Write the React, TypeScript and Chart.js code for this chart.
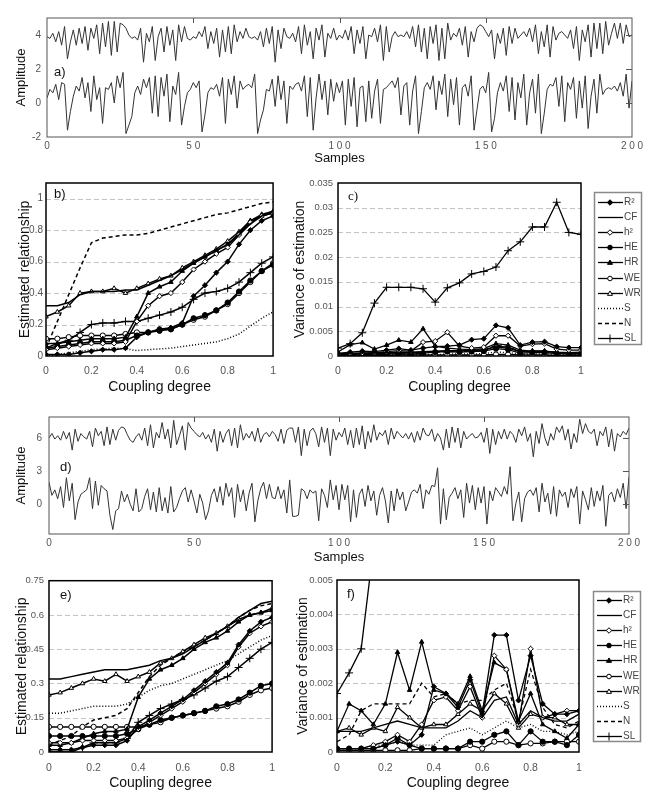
import React, { useEffect, useRef } from 'react';
import { Chart, registerables } from 'chart.js';

Chart.register(...registerables);

const FONT = "'Liberation Sans', Arial, Helvetica, sans-serif";
const TICK_FONT = "'Liberation Sans', Arial, sans-serif";

// ---------- signals (panel a) ----------
const sigAUpper = [
  3.9, 3.8, 4.1, 3.6, 4.2, 3.4, 4.5, 2.6, 3.6, 4.3, 3.4, 4.4, 3.5, 4.5, 3.1, 4.4, 3.8, 4.6, 2.9, 4.7,
  3.3, 4.8, 2.8, 4.8, 3.0, 4.7, 4.6, 4.4, 4.0, 3.8, 3.9, 3.7, 4.4, 2.4, 4.1, 3.6, 4.5, 2.5, 3.9, 4.4,
  3.0, 4.5, 3.4, 4.3, 2.5, 4.6, 3.6, 4.5, 3.8, 3.7, 3.9, 3.8, 4.2, 3.9, 4.5, 3.2, 4.2, 3.5, 4.4, 2.7,
  4.3, 3.0, 4.5, 2.9, 4.6, 3.6, 4.2, 3.8, 4.4, 3.9, 3.8, 3.9, 3.7, 4.2, 3.3, 4.4, 3.5, 4.5, 2.4, 4.3,
  3.2, 4.4, 3.9, 3.8, 4.1, 3.6, 4.5, 2.9, 4.6, 3.4, 4.2, 2.6, 4.4, 3.7, 4.6, 2.7, 4.1, 3.8, 4.4, 3.7,
  4.0, 3.8, 4.3, 3.7, 4.5, 2.9, 4.3, 3.5, 4.5, 2.6, 4.0, 3.9, 4.4, 3.6, 4.6, 2.5, 4.5, 3.0, 3.9, 4.2,
  3.9, 4.0, 3.9, 4.2, 3.8, 4.5, 3.3, 4.6, 3.0, 4.4, 2.6, 4.5, 3.5, 4.6, 2.5, 4.4, 2.6, 4.7, 3.7, 4.1,
  3.9, 4.4, 3.4, 4.5, 2.7, 4.2, 3.6, 4.4, 4.6, 4.5, 4.2, 3.9, 4.3, 2.6, 4.1, 3.5, 4.4, 2.8, 4.5, 3.5,
  4.4, 3.8, 4.0, 4.2, 3.9, 4.4, 3.6, 4.6, 2.9, 4.2, 3.3, 4.6, 2.7, 4.5, 3.7, 4.1, 4.2, 4.0, 3.8, 4.3,
  3.2, 4.5, 2.5, 4.3, 3.6, 4.6, 2.7, 4.7, 3.2, 4.7, 2.9, 4.8, 3.4, 4.1, 4.7, 3.8, 4.7, 3.5, 4.6, 3.9,
  4.0,
];
const sigALower = [
  0.3, 0.8, 0.6, 1.1, 0.2, 1.2, 1.1, -1.6, -0.5, 0.4, 1.0, 0.7, 1.5, 0.3, 1.2, -0.5, 1.6, 0.2, 0.9, -1.2,
  0.9, 0.8, 1.2, 0.0, 1.6, 0.9, 1.8, -1.8, -1.3, -0.8, 0.6, 1.0, 0.5, 1.4, 0.9, 1.5, -0.6, 1.6, -0.8, 1.5,
  0.4, 1.7, -1.1, 1.0, 0.5, 1.8, -1.3, -0.2, 0.6, 0.8, 1.2, 0.9, 1.3, -1.7, -0.7, 0.6, 0.9, 0.8, 1.1, 0.4,
  1.5, -1.2, 1.4, 0.5, 1.6, -0.3, 1.3, 0.8, 1.0, 1.1, 0.9, 1.7, -1.8, -1.0, -0.4, 0.8, 0.7, 1.4, -0.2, 1.6,
  0.2, 1.3, -1.2, 1.0, 0.8, 1.1, 1.2, 0.7, 1.6, -0.8, 1.5, -1.6, 0.3, 1.7, 0.2, 1.3, -0.7, 1.4, 0.1, 1.2,
  0.6, 1.3, -1.3, 1.4, -0.2, 1.5, -1.4, 0.9, 1.0, -1.1, 1.3, -0.9, 0.7, 1.4, -1.2, 0.8, 0.9, 1.1, 1.3, 0.9,
  1.5, -0.7, 1.0, 1.2, -1.3, 0.7, 1.6, -1.8, -0.5, 0.9, 1.2, 0.8, 1.6, -0.4, 1.3, 0.5, 1.7, -0.8, 1.4, -0.1,
  1.5, -1.3, 0.9, 1.1, 0.4, 1.6, -1.6, -0.4, 0.8, 1.0, 0.6, 1.8, -1.7, -0.9, 0.6, 1.2, 0.7, 1.6, -0.5, 1.5,
  -1.0, 1.2, 0.3, 1.7, -1.3, 0.6, 1.4, -0.6, 1.7, -1.8, -0.6, 0.8, 1.1, 1.0, 1.5, -0.2, 1.6, -1.1, 1.2, 0.8,
  1.5, -0.9, 1.3, -0.3, 1.6, -1.5, 0.4, 1.4, -0.6, 1.7, 0.5, 0.8, 0.9, 0.8, 1.0, 0.7, 1.2, 0.4, 1.7, -0.3,
  1.3,
];

// ---------- signals (panel d) ----------
const sigDUpper = [
  6.0, 6.4, 5.9, 6.2, 5.8, 6.6, 5.9, 6.5, 4.9, 6.8, 5.7, 6.4, 6.1, 5.9, 6.6, 5.2, 6.9, 6.2, 6.6, 5.3,
  7.0, 5.4, 6.8, 5.8, 6.7, 7.0, 6.9, 6.3, 5.8, 5.6, 6.1, 6.4, 5.8, 6.9, 5.3, 7.2, 5.1, 6.5, 6.0, 7.4,
  5.9, 6.8, 5.1, 7.6, 5.4, 6.2, 7.1, 4.9, 7.4, 6.9, 6.6, 6.3, 6.1, 6.5, 5.9, 6.3, 5.6, 6.8, 4.8, 6.6,
  5.6, 6.4, 6.8, 5.3, 6.9, 5.1, 7.2, 5.8, 6.4, 6.0, 6.6, 5.7, 6.9, 5.6, 6.3, 6.5, 6.1, 6.6, 6.3, 5.7,
  6.8, 5.5, 6.7, 6.9, 6.9, 5.6, 7.0, 4.4, 6.8, 5.3, 6.6, 6.9, 6.4, 5.2, 7.0, 5.6, 6.9, 4.4, 6.8, 5.8,
  6.5, 6.1, 6.9, 5.4, 6.7, 5.1, 6.9, 5.4, 7.1, 5.0, 6.6, 5.6, 7.2, 5.8, 6.5, 6.2, 6.7, 5.4, 6.9, 5.9,
  6.6, 6.3, 6.0, 6.4, 5.9, 6.5, 5.6, 6.6, 5.8, 6.9, 6.3, 6.2, 6.8, 5.7, 6.4, 6.0, 4.9, 6.8, 5.1, 7.0,
  5.6, 6.9, 5.1, 6.6, 5.9, 6.2, 6.4, 6.0, 6.1, 6.5, 5.6, 6.9, 4.6, 6.8, 5.4, 6.6, 5.9, 6.8, 5.9, 6.6,
  6.3, 5.6, 6.8, 6.2, 7.0, 5.7, 6.4, 4.3, 6.6, 5.5, 7.3, 6.0, 5.3, 6.4, 5.8, 7.0, 6.5, 7.1, 5.8, 6.8,
  5.0, 6.4, 5.6, 7.7, 6.4, 7.3, 6.6, 6.4, 6.8, 5.3, 6.6, 6.2, 7.0, 5.2, 6.8, 4.8, 6.4, 6.1, 6.6, 6.3,
  6.9,
];
const sigDLower = [
  2.0, 0.8, 1.3, 0.5, 1.6, -0.3, 2.4, 0.3, 1.9, -1.4, 0.2, 0.9, 1.1, 1.3, 2.4, -0.4, 2.1, -0.1, 1.7, 1.4,
  1.2, -1.0, -2.3, -0.6, -0.4, 1.2, 0.2, 0.9, 0.0, -0.6, 1.4, -0.7, -0.4, 0.7, 1.4, -0.5, 1.1, -0.7, 1.5, -0.6,
  0.6, -0.8, 1.6, -0.7, -0.3, 0.5, 1.2, 1.5, 0.2, 1.3, 0.3, -0.8, 0.9, 0.1, -1.4, -0.6, 0.8, 1.4, 0.2, 1.6,
  -0.1, 1.9, 0.7, 1.5, -1.2, 1.8, 0.2, 1.3, -0.6, 1.0, 1.9, -1.6, 0.3, 1.4, 2.0, 0.5, 1.8, 0.6, 0.5, 1.6,
  0.5, 1.3, -0.8, 2.2, -1.1, -1.1, -1.0, 1.4, 1.2, 0.5, 1.3, 1.0, 1.2, -1.5, 1.4, 0.8, -0.3, 2.2, 0.4, 1.7,
  -0.5, 1.8, 0.4, 1.7, -1.6, 1.3, -1.2, 0.9, 1.4, -0.2, 1.7, 0.3, 1.2, -1.0, 0.8, 1.5, 0.3, -1.7, 1.2, -0.6,
  1.4, 0.4, 1.1, -0.6, 0.2, 1.1, 1.3, 1.0, 1.8, -0.4, 1.3, 0.9, 1.7, 1.6, 3.3, -1.8, 1.4, -1.4, 0.6, 1.0,
  1.5, 0.5, 1.3, -1.2, 1.9, 0.1, 1.7, -0.5, 1.5, 0.1, 1.6, -1.8, 1.2, 0.3, 1.5, 1.1, 0.7, 1.6, 0.9, 3.4,
  -1.5, 0.1, 1.1, -1.6, 0.5, 1.1, 1.3, 0.8, 1.5, -0.7, 1.9, 0.2, 1.0, -0.9, 1.6, -1.1, 1.3, 0.7, 1.1, -0.3,
  1.4, 0.6, 1.6, -1.8, 1.2, 0.4, -0.5, 1.5, -0.2, 1.2, 0.3, 1.7, -2.0, 0.8, 1.1, 0.2, 1.4, 0.6, 1.9, -0.4,
  2.5,
];

// ---------- coupling degree ----------
const couplingDegree = [0, 0.05, 0.1, 0.15, 0.2, 0.25, 0.3, 0.35, 0.4, 0.45, 0.5, 0.55, 0.6, 0.65, 0.7, 0.75, 0.8, 0.85, 0.9, 0.95, 1];
const methods = ['R²', 'CF', 'h²', 'HE', 'HR', 'WE', 'WR', 'S', 'N', 'SL'];

// panel b: estimated relationship
const bR2 = [0.01, 0.01, 0.01, 0.02, 0.03, 0.04, 0.04, 0.05, 0.12, 0.15, 0.17, 0.18, 0.21, 0.38, 0.45, 0.53, 0.60, 0.71, 0.80, 0.86, 0.89];
const bCF = [0.32, 0.32, 0.34, 0.39, 0.41, 0.41, 0.41, 0.42, 0.42, 0.45, 0.48, 0.51, 0.55, 0.59, 0.63, 0.67, 0.71, 0.77, 0.84, 0.89, 0.92];
const bH2 = [0.04, 0.05, 0.06, 0.07, 0.08, 0.08, 0.08, 0.09, 0.22, 0.32, 0.38, 0.40, 0.47, 0.55, 0.60, 0.65, 0.69, 0.77, 0.85, 0.89, 0.91];
const bHE = [0.05, 0.06, 0.07, 0.08, 0.09, 0.09, 0.09, 0.10, 0.13, 0.15, 0.16, 0.17, 0.20, 0.24, 0.26, 0.29, 0.34, 0.41, 0.48, 0.54, 0.58];
const bHR = [0.08, 0.08, 0.09, 0.10, 0.11, 0.11, 0.11, 0.12, 0.25, 0.40, 0.44, 0.47, 0.54, 0.59, 0.63, 0.67, 0.71, 0.78, 0.86, 0.90, 0.92];
const bWE = [0.11, 0.11, 0.12, 0.13, 0.13, 0.13, 0.13, 0.14, 0.15, 0.15, 0.17, 0.17, 0.20, 0.23, 0.25, 0.29, 0.33, 0.40, 0.47, 0.54, 0.59];
const bWR = [0.25, 0.28, 0.32, 0.40, 0.41, 0.41, 0.43, 0.40, 0.43, 0.46, 0.49, 0.51, 0.56, 0.60, 0.64, 0.68, 0.73, 0.79, 0.86, 0.89, 0.91];
const bS = [0.00, 0.01, 0.02, 0.03, 0.04, 0.045, 0.05, 0.045, 0.035, 0.04, 0.045, 0.05, 0.06, 0.07, 0.08, 0.09, 0.11, 0.14, 0.19, 0.24, 0.28];
const bN = [0.05, 0.22, 0.39, 0.56, 0.72, 0.75, 0.76, 0.77, 0.77, 0.78, 0.80, 0.82, 0.84, 0.86, 0.88, 0.90, 0.91, 0.93, 0.95, 0.97, 0.98];
const bSL = [0.05, 0.08, 0.10, 0.15, 0.20, 0.21, 0.21, 0.22, 0.22, 0.24, 0.26, 0.28, 0.31, 0.36, 0.40, 0.41, 0.43, 0.47, 0.53, 0.59, 0.63];

// panel c: variance of estimation
const cR2 = [0.0005, 0.0008, 0.0010, 0.0009, 0.0012, 0.0015, 0.0012, 0.0016, 0.0019, 0.0020, 0.0022, 0.0033, 0.0035, 0.0062, 0.0057, 0.0022, 0.0028, 0.0029, 0.0019, 0.0017, 0.0017];
const cCF = [0.0005, 0.0006, 0.0006, 0.0007, 0.0007, 0.0008, 0.0008, 0.0009, 0.0010, 0.0011, 0.0011, 0.0012, 0.0013, 0.0018, 0.0016, 0.0009, 0.0010, 0.0010, 0.0007, 0.0006, 0.0006];
const cH2 = [0.0003, 0.0005, 0.0006, 0.0007, 0.0009, 0.0011, 0.0010, 0.0028, 0.0030, 0.0048, 0.0020, 0.0016, 0.0018, 0.0041, 0.0041, 0.0020, 0.0024, 0.0025, 0.0014, 0.0012, 0.0012];
const cHE = [0.0001, 0.0002, 0.0002, 0.0003, 0.0004, 0.0005, 0.0004, 0.0006, 0.0008, 0.0009, 0.0008, 0.0009, 0.0010, 0.0015, 0.0013, 0.0006, 0.0007, 0.0007, 0.0005, 0.0004, 0.0004];
const cHR = [0.0008, 0.0023, 0.0027, 0.0014, 0.0022, 0.0032, 0.0028, 0.0055, 0.0020, 0.0016, 0.0014, 0.0013, 0.0015, 0.0025, 0.0022, 0.0012, 0.0010, 0.0010, 0.0008, 0.0007, 0.0008];
const cWE = [0.0000, 0.0001, 0.0001, 0.0001, 0.0001, 0.0002, 0.0002, 0.0002, 0.0002, 0.0002, 0.0002, 0.0002, 0.0002, 0.0003, 0.0003, 0.0002, 0.0002, 0.0002, 0.0001, 0.0001, 0.0001];
const cWR = [0.0003, 0.0004, 0.0005, 0.0005, 0.0006, 0.0007, 0.0007, 0.0008, 0.0009, 0.0010, 0.0010, 0.0011, 0.0012, 0.0020, 0.0018, 0.0009, 0.0010, 0.0010, 0.0007, 0.0006, 0.0006];
const cS = [0.0001, 0.0001, 0.0002, 0.0002, 0.0002, 0.0003, 0.0003, 0.0003, 0.0003, 0.0004, 0.0004, 0.0004, 0.0005, 0.0008, 0.0007, 0.0004, 0.0004, 0.0004, 0.0003, 0.0003, 0.0003];
const cN = [0.0002, 0.0003, 0.0004, 0.0004, 0.0005, 0.0006, 0.0006, 0.0007, 0.0008, 0.0009, 0.0009, 0.0010, 0.0011, 0.0022, 0.0019, 0.0008, 0.0009, 0.0009, 0.0006, 0.0005, 0.0005];
const cSL = [0.0016, 0.0025, 0.0047, 0.0107, 0.0139, 0.0139, 0.0139, 0.0136, 0.0109, 0.0138, 0.0148, 0.0166, 0.0171, 0.0180, 0.0213, 0.0231, 0.0261, 0.0261, 0.0311, 0.0250, 0.0246];

// panel e: estimated relationship
const eR2 = [0.01, 0.01, 0.01, 0.02, 0.03, 0.03, 0.03, 0.05, 0.11, 0.14, 0.17, 0.20, 0.23, 0.27, 0.31, 0.35, 0.39, 0.47, 0.53, 0.57, 0.59];
const eCF = [0.32, 0.32, 0.33, 0.34, 0.35, 0.36, 0.36, 0.36, 0.37, 0.38, 0.40, 0.41, 0.43, 0.46, 0.49, 0.52, 0.55, 0.59, 0.62, 0.65, 0.66];
const eH2 = [0.04, 0.04, 0.04, 0.05, 0.05, 0.05, 0.05, 0.06, 0.10, 0.13, 0.16, 0.19, 0.22, 0.26, 0.30, 0.34, 0.38, 0.46, 0.52, 0.55, 0.57];
const eHE = [0.07, 0.07, 0.07, 0.07, 0.07, 0.07, 0.07, 0.08, 0.10, 0.12, 0.14, 0.15, 0.16, 0.17, 0.18, 0.20, 0.21, 0.23, 0.26, 0.29, 0.30];
const eHR = [0.03, 0.03, 0.04, 0.06, 0.08, 0.09, 0.09, 0.10, 0.24, 0.32, 0.36, 0.38, 0.41, 0.45, 0.48, 0.50, 0.53, 0.57, 0.60, 0.61, 0.62];
const eWE = [0.11, 0.11, 0.11, 0.11, 0.11, 0.11, 0.11, 0.11, 0.11, 0.12, 0.13, 0.15, 0.16, 0.17, 0.18, 0.19, 0.20, 0.22, 0.25, 0.27, 0.28];
const eWR = [0.25, 0.26, 0.28, 0.30, 0.32, 0.31, 0.34, 0.31, 0.33, 0.35, 0.39, 0.41, 0.44, 0.47, 0.50, 0.52, 0.55, 0.58, 0.60, 0.61, 0.63];
const eS = [0.17, 0.17, 0.18, 0.19, 0.20, 0.20, 0.20, 0.21, 0.24, 0.27, 0.29, 0.30, 0.32, 0.34, 0.36, 0.38, 0.40, 0.43, 0.46, 0.49, 0.51];
const eN = [0.03, 0.05, 0.07, 0.11, 0.14, 0.15, 0.16, 0.19, 0.26, 0.33, 0.38, 0.41, 0.44, 0.46, 0.49, 0.52, 0.55, 0.59, 0.62, 0.64, 0.65];
const eSL = [0.00, 0.00, 0.00, 0.02, 0.04, 0.04, 0.04, 0.06, 0.13, 0.16, 0.19, 0.21, 0.23, 0.25, 0.28, 0.31, 0.33, 0.37, 0.41, 0.45, 0.48];

// panel f: variance of estimation
const fR2 = [0.0001, 0.0001, 0.0001, 0.0001, 0.0002, 0.0003, 0.0002, 0.0005, 0.0019, 0.0017, 0.0013, 0.0021, 0.0011, 0.0034, 0.0034, 0.0015, 0.0028, 0.0014, 0.0011, 0.0011, 0.0012];
const fCF = [0.0006, 0.0006, 0.0006, 0.0007, 0.0008, 0.0009, 0.0008, 0.0007, 0.0007, 0.0007, 0.0009, 0.0012, 0.0010, 0.0015, 0.0016, 0.0008, 0.0012, 0.0010, 0.0009, 0.0009, 0.0011];
const fH2 = [0.0001, 0.0001, 0.0001, 0.0002, 0.0003, 0.0005, 0.0003, 0.0008, 0.0015, 0.0016, 0.0012, 0.0019, 0.0010, 0.0028, 0.0024, 0.0008, 0.0030, 0.0010, 0.0011, 0.0012, 0.0012];
const fHE = [0.0001, 0.0001, 0.0001, 0.0001, 0.0002, 0.0004, 0.0002, 0.0001, 0.0001, 0.0001, 0.0001, 0.0003, 0.0003, 0.0005, 0.0006, 0.0002, 0.0006, 0.0003, 0.0003, 0.0002, 0.0005];
const fHR = [0.0006, 0.0014, 0.0012, 0.0008, 0.0014, 0.0029, 0.0018, 0.0032, 0.0018, 0.0017, 0.0014, 0.0022, 0.0012, 0.0026, 0.0024, 0.0009, 0.0017, 0.0008, 0.0006, 0.0004, 0.0008];
const fWE = [0.00005, 0.00005, 0.00005, 0.00005, 0.00005, 0.00005, 0.00005, 0.0001, 0.0001, 0.0001, 0.0001, 0.0002, 0.0001, 0.0003, 0.0003, 0.0002, 0.00025, 0.00025, 0.0003, 0.0003, 0.0003];
const fWR = [0.0006, 0.0007, 0.0005, 0.0007, 0.0006, 0.0013, 0.0010, 0.0007, 0.0008, 0.0008, 0.0011, 0.0014, 0.0012, 0.0017, 0.0014, 0.0007, 0.0011, 0.0010, 0.0010, 0.0008, 0.0008];
const fS = [0.0001, 0.0001, 0.0001, 0.0002, 0.0002, 0.0003, 0.0002, 0.0002, 0.0002, 0.0005, 0.0006, 0.0007, 0.0005, 0.0007, 0.0009, 0.0007, 0.0008, 0.0006, 0.0006, 0.0005, 0.0006];
const fN = [0.0003, 0.0005, 0.0012, 0.0014, 0.0014, 0.0014, 0.0014, 0.0020, 0.0016, 0.0017, 0.0014, 0.0015, 0.0015, 0.0018, 0.0020, 0.0009, 0.0024, 0.0013, 0.0008, 0.0007, 0.0009];
const fSL = [0.0017, 0.0023, 0.0030, 0.0059, 0.0085, 0.0090, 0.0095, 0.0100, 0.0095, 0.0100, 0.0105, 0.0110, 0.0115, 0.0120, 0.0125, 0.0130, 0.0135, 0.0140, 0.0145, 0.0150, 0.0155];

// ---------- ticks ----------
const sampleTicks = [0, 50, 100, 150, 200];
const sampleTickLabels = ['0', '5 0', '1 0 0', '1 5 0', '2 0 0'];
const ampTicksA = [-2, 0, 2, 4];
const ampTickLabelsA = ['-2', '0', '2', '4'];
const ampTicksD = [0, 3, 6];
const ampTickLabelsD = ['0', '3', '6'];
const couplingTicks = [0, 0.2, 0.4, 0.6, 0.8, 1];
const couplingTickLabels = ['0', '0.2', '0.4', '0.6', '0.8', '1'];
const relTicksB = [0, 0.2, 0.4, 0.6, 0.8, 1];
const relTickLabelsB = ['0', '0.2', '0.4', '0.6', '0.8', '1'];
const varTicksC = [0, 0.005, 0.01, 0.015, 0.02, 0.025, 0.03, 0.035];
const varTickLabelsC = ['0', '0.005', '0.01', '0.015', '0.02', '0.025', '0.03', '0.035'];
const relTicksE = [0, 0.15, 0.3, 0.45, 0.6, 0.75];
const relTickLabelsE = ['0', '0.15', '0.3', '0.45', '0.6', '0.75'];
const varTicksF = [0, 0.001, 0.002, 0.003, 0.004, 0.005];
const varTickLabelsF = ['0', '0.001', '0.002', '0.003', '0.004', '0.005'];

// marker styles per method
const MARK: Record<string, { shape: string | null; filled: boolean; dash: number[] }> = {
  'R²': { shape: 'rectRot', filled: true, dash: [] },
  'CF': { shape: null, filled: true, dash: [] },
  'h²': { shape: 'rectRot', filled: false, dash: [] },
  'HE': { shape: 'circle', filled: true, dash: [] },
  'HR': { shape: 'triangle', filled: true, dash: [] },
  'WE': { shape: 'circle', filled: false, dash: [] },
  'WR': { shape: 'triangle', filled: false, dash: [] },
  'S': { shape: null, filled: true, dash: [1, 2] },
  'N': { shape: null, filled: true, dash: [4, 3] },
  'SL': { shape: 'cross', filled: true, dash: [] },
};

function methodDatasets(series: number[][], width: number) {
  return methods.map((name, k) => {
    const st = MARK[name];
    return {
      label: name,
      data: series[k].map((v, i) => ({ x: couplingDegree[i], y: v })),
      borderColor: '#000',
      borderWidth: width,
      borderDash: st.dash,
      pointStyle: st.shape || 'circle',
      pointRadius: st.shape ? (st.shape === 'cross' ? 4 : 2.6) : 0,
      pointBackgroundColor: st.filled ? '#000' : '#fff',
      pointBorderColor: '#000',
      pointBorderWidth: 1,
      tension: 0,
      fill: false,
    };
  });
}

function signalDataset(values: number[]) {
  return {
    data: values.map((v, i) => ({ x: i, y: v })),
    borderColor: '#333',
    borderWidth: 1,
    pointRadius: 0,
    tension: 0,
    fill: false,
  };
}

function drawMarker(ctx: CanvasRenderingContext2D, shape: string, x: number, y: number, r: number, fill: string) {
  ctx.beginPath();
  if (shape === 'circle') {
    ctx.arc(x, y, r, 0, Math.PI * 2);
  } else if (shape === 'rectRot') {
    ctx.moveTo(x, y - r * 1.2); ctx.lineTo(x + r * 1.2, y); ctx.lineTo(x, y + r * 1.2); ctx.lineTo(x - r * 1.2, y); ctx.closePath();
  } else if (shape === 'triangle') {
    ctx.moveTo(x, y - r * 1.1); ctx.lineTo(x + r * 1.1, y + r * 0.8); ctx.lineTo(x - r * 1.1, y + r * 0.8); ctx.closePath();
  } else if (shape === 'cross') {
    ctx.moveTo(x, y - 4); ctx.lineTo(x, y + 4); ctx.moveTo(x - 4, y); ctx.lineTo(x + 4, y);
    ctx.stroke();
    return;
  }
  ctx.fillStyle = fill;
  ctx.fill();
  ctx.stroke();
}

const panelPlugin = {
  id: 'panel',
  beforeDatasetsDraw(chart: any, _a: any, o: any) {
    const { ctx, chartArea: a } = chart;
    const ys = chart.scales.y;
    if (o.grid && o.grid.length) {
      ctx.save();
      ctx.strokeStyle = '#c4c4c4';
      ctx.lineWidth = 1;
      ctx.setLineDash([5, 3]);
      for (const v of o.grid) {
        const y = Math.round(ys.getPixelForValue(v)) + 0.5;
        ctx.beginPath(); ctx.moveTo(a.left, y); ctx.lineTo(a.right, y); ctx.stroke();
      }
      ctx.restore();
    }
  },
  afterDraw(chart: any, _a: any, o: any) {
    const { ctx, chartArea: a } = chart;
    const xs = chart.scales.x;
    const ys = chart.scales.y;
    ctx.save();
    ctx.setLineDash([]);
    ctx.strokeStyle = o.frameColor;
    ctx.lineWidth = o.frameWidth;
    ctx.strokeRect(a.left, a.top, a.right - a.left, a.bottom - a.top);
    if (o.topTicks) {
      ctx.lineWidth = 1;
      for (const v of o.topTicks) {
        const x = Math.round(xs.getPixelForValue(v)) + 0.5;
        ctx.beginPath(); ctx.moveTo(x, a.top); ctx.lineTo(x, a.top + 5); ctx.stroke();
      }
    }
    if (o.rightTicks) {
      ctx.lineWidth = 1;
      for (const v of o.rightTicks) {
        const y = Math.round(ys.getPixelForValue(v)) + 0.5;
        ctx.beginPath(); ctx.moveTo(a.right, y); ctx.lineTo(a.right - 6, y); ctx.stroke();
      }
    }
    if (o.label) {
      ctx.fillStyle = '#111';
      ctx.font = o.label.font;
      ctx.textBaseline = 'middle';
      ctx.textAlign = 'left';
      ctx.fillText(o.label.text, o.label.x, o.label.y);
    }
    if (o.legend) {
      const L = o.legend;
      ctx.fillStyle = '#fff';
      ctx.fillRect(L.x, L.y, L.w, L.h);
      ctx.strokeStyle = '#8a8a8a';
      ctx.lineWidth = 1.5;
      ctx.strokeRect(L.x + 0.5, L.y + 0.5, L.w, L.h);
      chart.data.datasets.forEach((ds: any, i: number) => {
        const cy = Math.round(L.y + L.first + i * L.step) + 0.5;
        ctx.strokeStyle = '#000';
        ctx.lineWidth = 1.3;
        ctx.setLineDash(ds.borderDash || []);
        ctx.beginPath(); ctx.moveTo(L.x + 4, cy); ctx.lineTo(L.x + 29, cy); ctx.stroke();
        ctx.setLineDash([]);
        if (ds.pointRadius > 0) {
          ctx.lineWidth = 1;
          drawMarker(ctx, ds.pointStyle, L.x + 16, cy, 2.3, ds.pointBackgroundColor);
        }
        ctx.fillStyle = '#444';
        ctx.font = `10px ${FONT}`;
        ctx.textAlign = 'left';
        ctx.textBaseline = 'middle';
        ctx.fillText(ds.label, L.x + 30, cy);
      });
    }
    ctx.restore();
  },
};

type AxisSpec = {
  min: number; max: number; ticks: number[]; labels: string[];
  title: string; size: number; pad: number; titlePad: number; titleSize: number; tickSize: number;
};

function makeScales(x: AxisSpec, y: AxisSpec) {
  return {
    x: {
      type: 'linear', min: x.min, max: x.max,
      afterBuildTicks: (s: any) => { s.ticks = x.ticks.map((v) => ({ value: v })); },
      afterFit: (s: any) => { s.height = x.size; },
      grid: { display: false, drawTicks: false },
      border: { display: false },
      ticks: {
        autoSkip: false, maxRotation: 0, minRotation: 0, padding: x.pad, color: '#555',
        font: { family: TICK_FONT, size: x.tickSize },
        callback: (_v: any, i: number) => x.labels[i],
      },
      title: { display: true, text: x.title, color: '#111', font: { family: FONT, size: x.titleSize }, padding: { top: 0, bottom: x.titlePad } },
    },
    y: {
      type: 'linear', min: y.min, max: y.max,
      afterBuildTicks: (s: any) => { s.ticks = y.ticks.map((v) => ({ value: v })); },
      afterFit: (s: any) => { s.width = y.size; },
      grid: { display: false, drawTicks: false },
      border: { display: false },
      ticks: {
        autoSkip: false, padding: y.pad, color: '#555',
        font: { family: TICK_FONT, size: y.tickSize },
        callback: (_v: any, i: number) => y.labels[i],
      },
      title: { display: true, text: y.title, color: '#111', font: { family: FONT, size: y.titleSize }, padding: { top: y.titlePad, bottom: 0 } },
    },
  };
}

function makeConfig(datasets: any[], scales: any, padding: any, panel: any) {
  return {
    type: 'line',
    data: { datasets },
    options: {
      responsive: false,
      animation: false,
      devicePixelRatio: 1,
      events: [],
      layout: { padding },
      scales,
      plugins: { legend: { display: false }, tooltip: { enabled: false }, panel },
    },
    plugins: [panelPlugin],
  };
}

function ChartBox({ left, top, width, height, build }: { left: number; top: number; width: number; height: number; build: () => any }) {
  const ref = useRef<HTMLCanvasElement | null>(null);
  useEffect(() => {
    const chart = new Chart(ref.current as HTMLCanvasElement, build());
    return () => chart.destroy();
  }, []);
  return <canvas ref={ref} width={width} height={height} style={{ position: 'absolute', left, top, width, height }} />;
}

const LABEL_FONT = `13px ${FONT}`;

const buildA = () => makeConfig(
  [signalDataset(sigAUpper), signalDataset(sigALower)],
  makeScales(
    { min: 0, max: 200, ticks: sampleTicks, labels: sampleTickLabels, title: 'Samples', size: 33, pad: 3, titlePad: 4, titleSize: 13, tickSize: 10 },
    { min: -2, max: 5, ticks: ampTicksA, labels: ampTickLabelsA, title: 'Amplitude', size: 47, pad: 6, titlePad: 14, titleSize: 13, tickSize: 10 },
  ),
  { top: 18, right: 27, left: 0, bottom: 0 },
  { frameColor: '#555', frameWidth: 1, topTicks: [50, 100, 150], rightTicks: [0, 2, 4], label: { text: 'a)', x: 54, y: 72, font: LABEL_FONT } },
);

const buildB = () => makeConfig(
  methodDatasets([bR2, bCF, bH2, bHE, bHR, bWE, bWR, bS, bN, bSL], 1.5),
  makeScales(
    { min: 0, max: 1, ticks: couplingTicks, labels: couplingTickLabels, title: 'Coupling degree', size: 44, pad: 9, titlePad: 4.6, titleSize: 14, tickSize: 10.5 },
    { min: 0, max: 1.1, ticks: relTicksB, labels: relTickLabelsB, title: 'Estimated relationship', size: 46, pad: 3, titlePad: 16.6, titleSize: 14, tickSize: 10 },
  ),
  { top: 13, right: 6, left: 0, bottom: 0 },
  { frameColor: '#000', frameWidth: 1.5, grid: [0.2, 0.4, 0.6, 0.8, 1], label: { text: 'b)', x: 54, y: 24, font: LABEL_FONT } },
);

const buildC = () => makeConfig(
  methodDatasets([cR2, cCF, cH2, cHE, cHR, cWE, cWR, cS, cN, cSL], 1.3),
  makeScales(
    { min: 0, max: 1, ticks: couplingTicks, labels: couplingTickLabels, title: 'Coupling degree', size: 44, pad: 9, titlePad: 4.6, titleSize: 14, tickSize: 10.5 },
    { min: 0, max: 0.035, ticks: varTicksC, labels: varTickLabelsC, title: 'Variance of estimation', size: 53, pad: 5, titlePad: 6.6, titleSize: 14, tickSize: 9.5 },
  ),
  { top: 13, right: 78, left: 0, bottom: 0 },
  {
    frameColor: '#000', frameWidth: 1.5, grid: [0.005, 0.01, 0.015, 0.02, 0.025, 0.03],
    label: { text: 'c)', x: 63, y: 27, font: `13px 'Liberation Serif', 'Times New Roman', serif` },
    legend: { x: 309, y: 22, w: 47, h: 152, first: 10, step: 15.1 },
  },
);

const buildD = () => makeConfig(
  [signalDataset(sigDUpper), signalDataset(sigDLower)],
  makeScales(
    { min: 0, max: 200, ticks: sampleTicks, labels: sampleTickLabels, title: 'Samples', size: 36, pad: 3, titlePad: 5, titleSize: 13, tickSize: 10 },
    { min: -2.7, max: 7.9, ticks: ampTicksD, labels: ampTickLabelsD, title: 'Amplitude', size: 49, pad: 7, titlePad: 14, titleSize: 13, tickSize: 10 },
  ),
  { top: 17, right: 30, left: 0, bottom: 0 },
  { frameColor: '#555', frameWidth: 1, topTicks: [50, 100, 150], rightTicks: [0, 3, 6], label: { text: 'd)', x: 60, y: 67, font: LABEL_FONT } },
);

const buildE = () => makeConfig(
  methodDatasets([eR2, eCF, eH2, eHE, eHR, eWE, eWR, eS, eN, eSL], 1.5),
  makeScales(
    { min: 0, max: 1, ticks: couplingTicks, labels: couplingTickLabels, title: 'Coupling degree', size: 55, pad: 10, titlePad: 15.6, titleSize: 14, tickSize: 10.5 },
    { min: 0, max: 0.75, ticks: relTicksE, labels: relTickLabelsE, title: 'Estimated relationship', size: 49, pad: 5, titlePad: 13.6, titleSize: 14, tickSize: 9.5 },
  ),
  { top: 10, right: 8, left: 0, bottom: 0 },
  { frameColor: '#000', frameWidth: 1.5, grid: [0.15, 0.3, 0.45, 0.6], label: { text: 'e)', x: 60, y: 25, font: LABEL_FONT } },
);

const buildF = () => makeConfig(
  methodDatasets([fR2, fCF, fH2, fHE, fHR, fWE, fWR, fS, fN, fSL], 1.3),
  makeScales(
    { min: 0, max: 1, ticks: couplingTicks, labels: couplingTickLabels, title: 'Coupling degree', size: 55, pad: 10, titlePad: 15.6, titleSize: 14, tickSize: 10.5 },
    { min: 0, max: 0.005, ticks: varTicksF, labels: varTickLabelsF, title: 'Variance of estimation', size: 52, pad: 4, titlePad: 9.6, titleSize: 14, tickSize: 9.5 },
  ),
  { top: 10, right: 80, left: 0, bottom: 0 },
  {
    frameColor: '#000', frameWidth: 1.5, grid: [0.001, 0.002, 0.003, 0.004],
    label: { text: 'f)', x: 62, y: 24, font: LABEL_FONT },
    legend: { x: 308, y: 21, w: 47, h: 150, first: 9, step: 15.1 },
  },
);

export default function App() {
  return (
    <div style={{ position: 'absolute', left: 0, top: 0, width: 659, height: 807, background: '#fff', overflow: 'hidden' }}>
      <ChartBox left={0} top={0} width={659} height={170} build={buildA} />
      <ChartBox left={0} top={170} width={285} height={230} build={buildB} />
      <ChartBox left={285} top={170} width={374} height={230} build={buildC} />
      <ChartBox left={0} top={400} width={659} height={170} build={buildD} />
      <ChartBox left={0} top={570} width={285} height={237} build={buildE} />
      <ChartBox left={285} top={570} width={374} height={237} build={buildF} />
    </div>
  );
}
